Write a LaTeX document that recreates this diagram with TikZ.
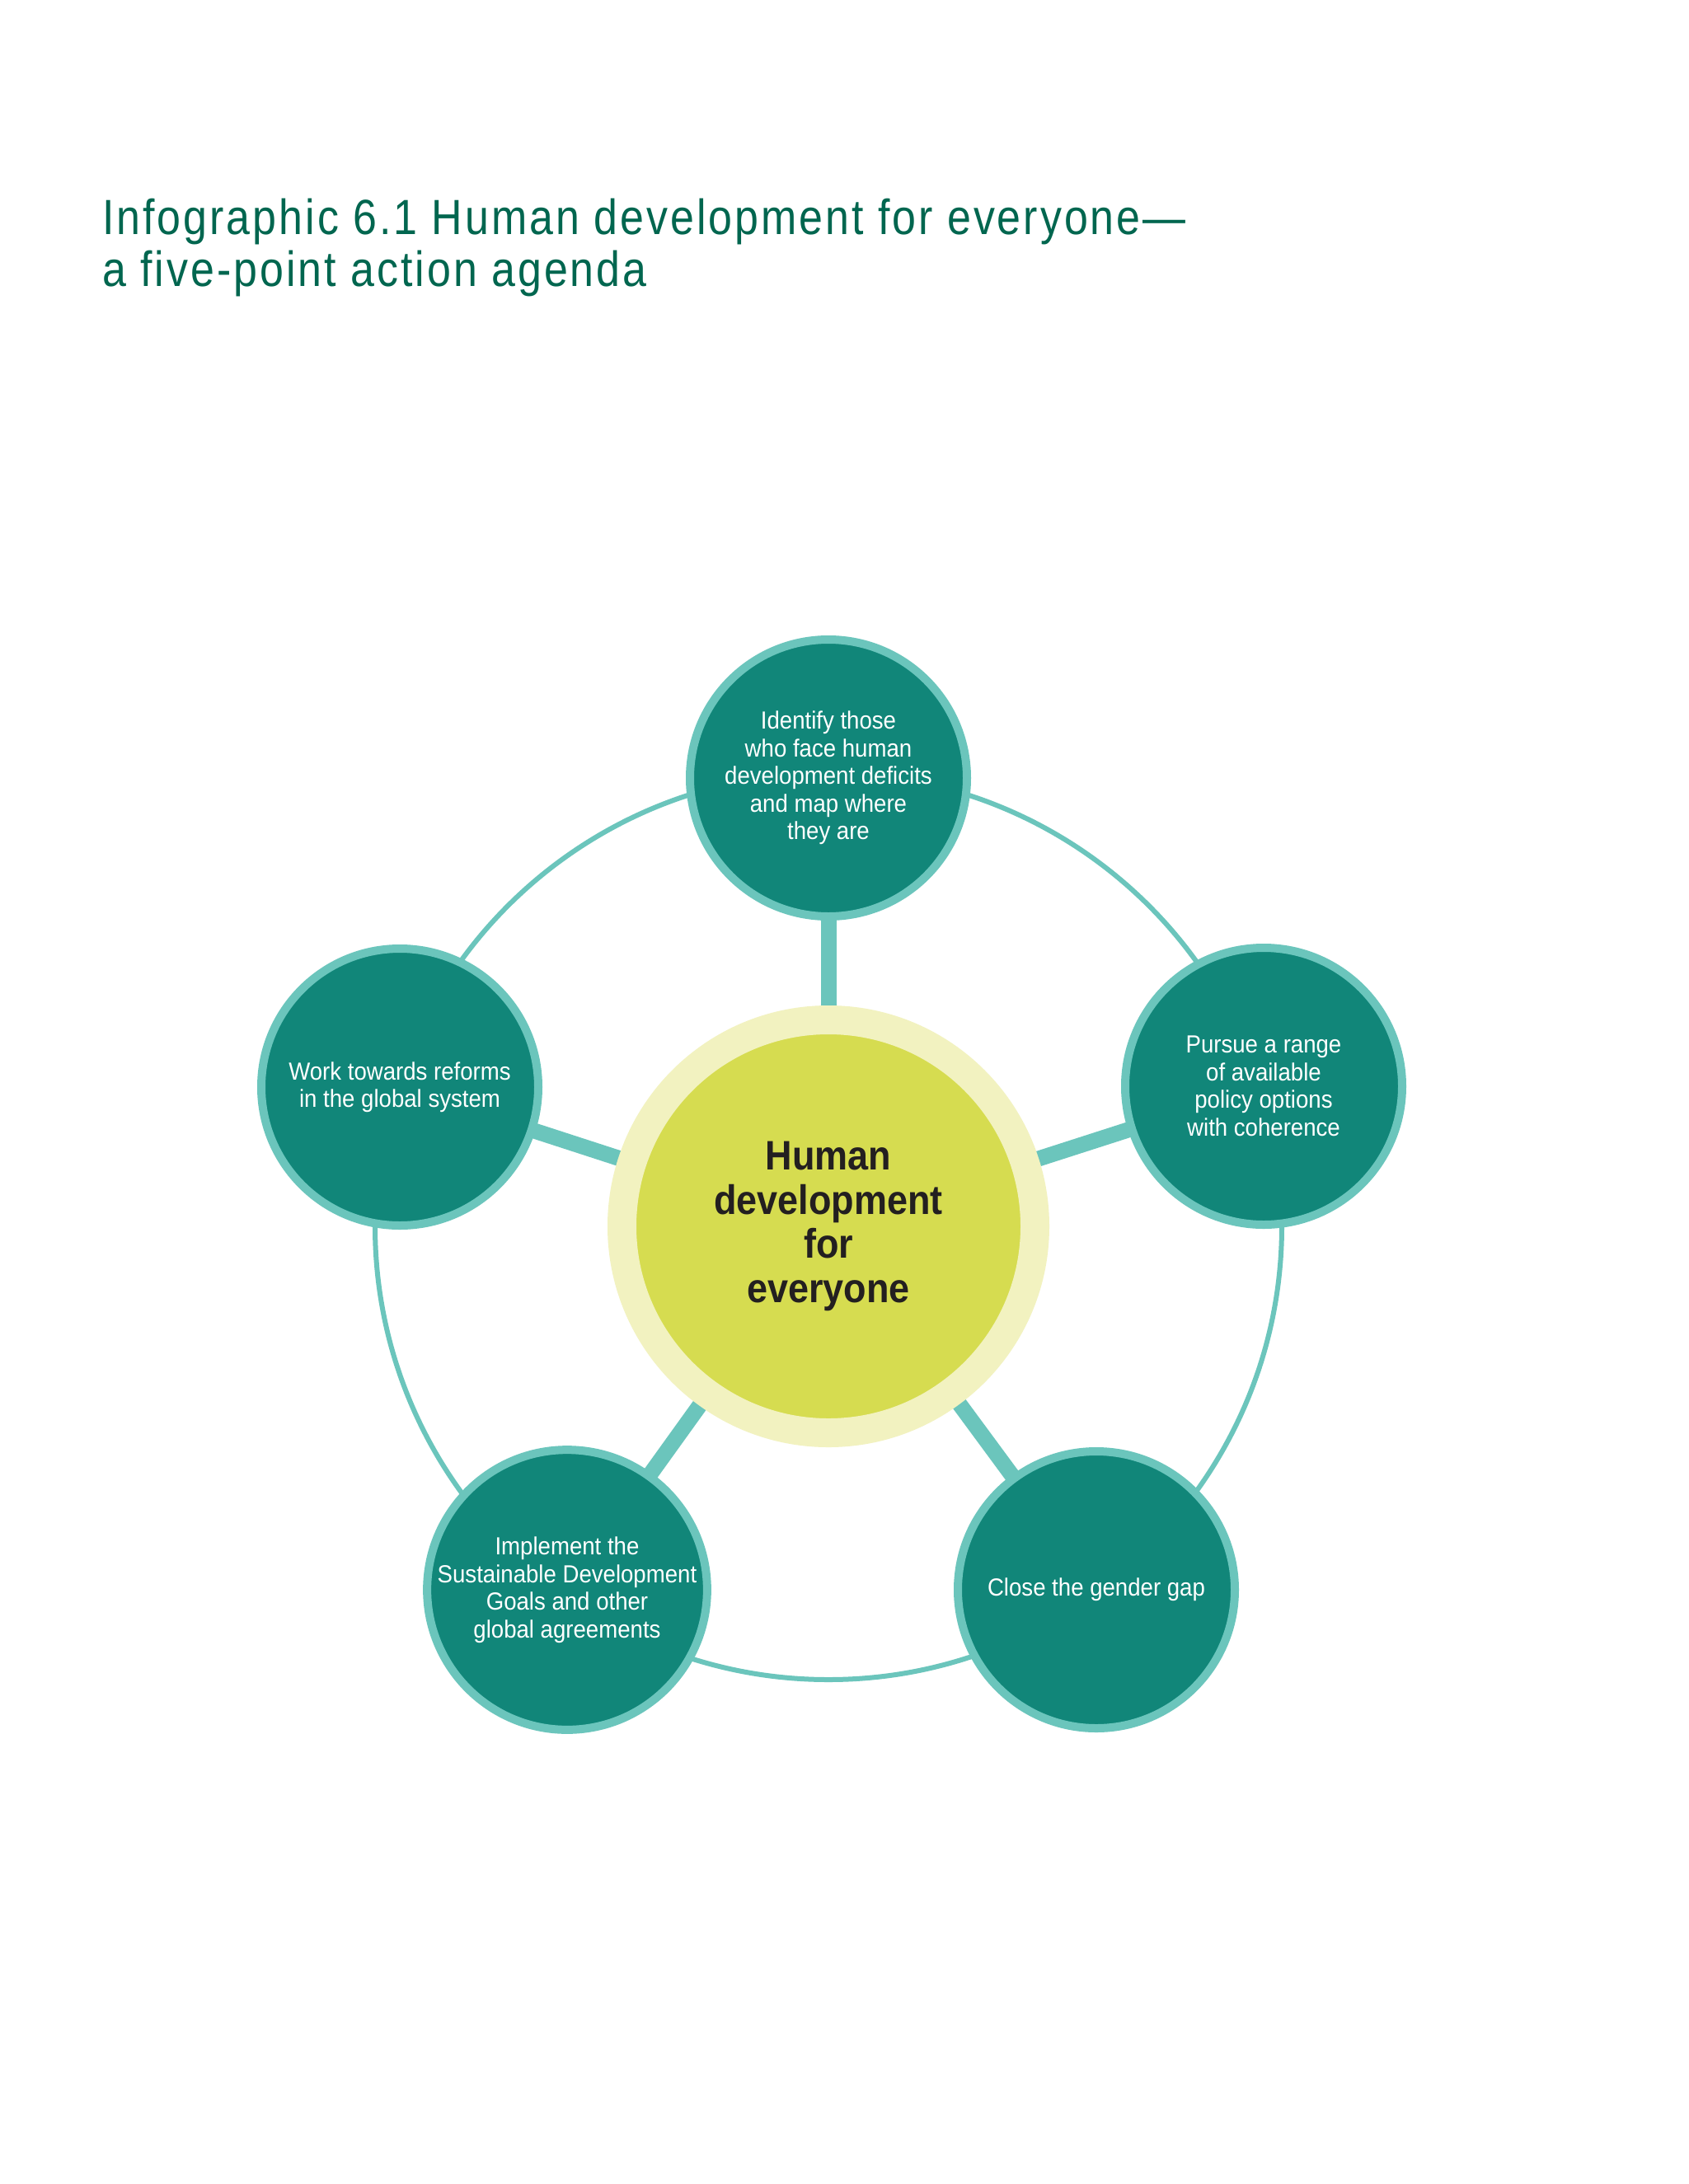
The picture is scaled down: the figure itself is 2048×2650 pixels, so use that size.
\documentclass[tikz,border=0pt]{standalone}
\usepackage{fontspec}
\setmainfont{Liberation Sans}
\newfontfamily\titlefont[FakeStretch=0.865,LetterSpace=5]{Liberation Sans}
\newfontfamily\condfont[FakeStretch=0.92]{Liberation Sans}
\newfontfamily\hubfont[FakeStretch=0.9]{Liberation Sans}
\definecolor{titlegreen}{HTML}{00664F}
\definecolor{darkteal}{HTML}{118679}
\definecolor{lightteal}{HTML}{6BC5BC}
\definecolor{hubfill}{HTML}{D6DC50}
\definecolor{hubring}{HTML}{F2F2C0}
\definecolor{hubtext}{HTML}{231F20}
\tikzset{
  goal/.style={circle, minimum size=336pt, inner sep=0pt, line width=10pt,
    draw=lightteal, fill=darkteal, text=white, align=center,
    font=\condfont\fontsize{30}{33.5}\selectfont},
  hub/.style={circle, minimum size=501pt, inner sep=0pt, line width=35pt,
    draw=hubring, fill=hubfill, text=hubtext, align=center,
    font=\hubfont\bfseries\fontsize{50}{53.6}\selectfont},
  spoke/.style={draw=lightteal, line width=19pt},
  ringline/.style={draw=lightteal, line width=6pt},
  titletext/.style={anchor=base west, inner sep=0pt, text=titlegreen,
    font=\titlefont\fontsize{60}{62.7}\selectfont}
}
\begin{document}
\begin{tikzpicture}[x=1pt,y=-1pt]
\useasboundingbox[fill=white] (0,0) rectangle (2048,2650);
% title
\node[titletext] (t1) at (124,284) {Infographic 6.1 Human development for everyone—};
\node[titletext] (t2) at (124,347.5) {a five-point action agenda};
% layout coordinates
\coordinate (c) at (1005,1488);
\coordinate (pA) at (1005,944);
\coordinate (pB) at (1533,1318);
\coordinate (pC) at (1330,1929);
\coordinate (pD) at (688,1929);
\coordinate (pE) at (485,1319);
% outer ring
\draw[ringline] (c) circle[radius=550];
% spokes
\foreach \p in {pA,pB,pC,pD,pE} \draw[spoke] (c) -- (\p);
% hub
\node[hub] (hub) at (c) {Human\\development\\for\\everyone};
% goals
\node[goal] (gA) at (pA) {Identify those\\who face human\\development deficits\\and map where\\they are};
\node[goal] (gB) at (pB) {Pursue a range\\of available\\policy options\\with coherence};
\node[goal] (gC) at (pC) {Close the gender gap};
\node[goal] (gD) at (pD) {Implement the\\Sustainable Development\\Goals and other\\global agreements};
\node[goal] (gE) at (pE) {Work towards reforms\\in the global system};
\end{tikzpicture}
\end{document}
